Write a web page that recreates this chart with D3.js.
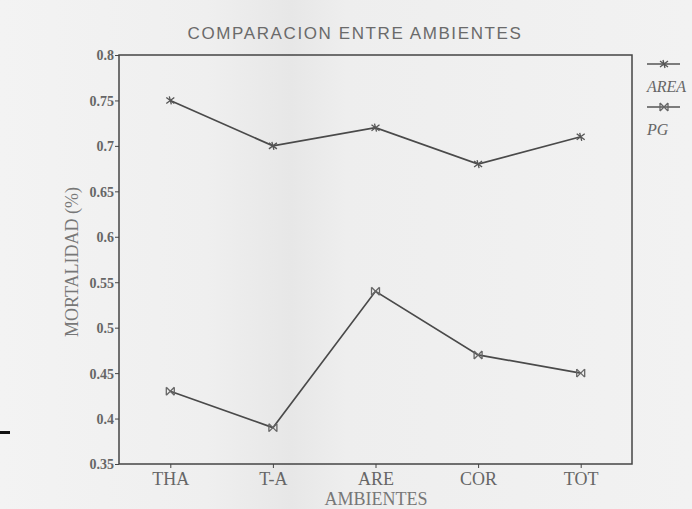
<!DOCTYPE html>
<html>
<head>
<meta charset="utf-8">
<title>Comparacion entre ambientes</title>
<script src="https://cdn.jsdelivr.net/npm/d3@7"></script>
<style>
  * { margin: 0; padding: 0; }
  body { background: #f1f1f1; }
  .axis text { font-family: "Liberation Serif", "DejaVu Serif", serif; fill: #666; }
  .axis path, .axis line { stroke: #444; }
</style>
</head>
<body>
<script>
// values
var ambientes = ["THA", "T-A", "ARE", "COR", "TOT"];
var areaValues = [0.75, 0.70, 0.72, 0.68, 0.71];
var pgValues = [0.43, 0.39, 0.54, 0.47, 0.45];
var yTicks = [0.35, 0.4, 0.45, 0.5, 0.55, 0.6, 0.65, 0.7, 0.75, 0.8];
var seriesNames = ["AREA", "PG"];

var W = 692, H = 509;
var margin = { top: 55, right: 60, bottom: 45, left: 119 },
    width = 632 - margin.left,
    height = 464 - margin.top;

var svg = d3.select("body").append("svg")
    .attr("width", W)
    .attr("height", H);

// scanned paper look: a slightly darker vertical band
var defs = svg.append("defs");
var grad = defs.append("linearGradient").attr("id", "paper");
grad.append("stop").attr("offset", "0%").attr("stop-color", "#f3f3f3");
grad.append("stop").attr("offset", "30%").attr("stop-color", "#efefef");
grad.append("stop").attr("offset", "42%").attr("stop-color", "#e7e7e7");
grad.append("stop").attr("offset", "50%").attr("stop-color", "#eeeeee");
grad.append("stop").attr("offset", "100%").attr("stop-color", "#f2f2f2");
svg.append("rect").attr("width", W).attr("height", H).attr("fill", "url(#paper)");

// stray mark at the left edge of the scan
svg.append("rect").attr("x", 0).attr("y", 431).attr("width", 10).attr("height", 3).attr("fill", "#111");

var g = svg.append("g")
    .attr("transform", "translate(" + margin.left + "," + margin.top + ")");

var x = d3.scalePoint().domain(ambientes).range([0, width]).padding(0.5);
var y = d3.scaleLinear().domain([0.35, 0.8]).range([height, 0]);

// frame
g.append("rect")
    .attr("width", width).attr("height", height)
    .attr("fill", "none").attr("stroke", "#444").attr("stroke-width", 1.5);

var yAxis = g.append("g").attr("class", "axis")
    .call(d3.axisLeft(y).tickValues(yTicks).tickSize(4).tickPadding(1)
        .tickFormat(function(d) { return d3.format("")(+d.toFixed(2)); }));
yAxis.select(".domain").remove();
yAxis.selectAll("text").style("font-size", "14px").style("font-weight", "bold").attr("dy", "0.35em");

var xAxis = g.append("g").attr("class", "axis")
    .attr("transform", "translate(0," + height + ")")
    .call(d3.axisBottom(x).tickSize(4).tickPadding(4));
xAxis.select(".domain").remove();
xAxis.selectAll("text").style("font-size", "18px");

// lines
var line = d3.line()
    .x(function(d, i) { return x(ambientes[i]); })
    .y(function(d) { return y(d); });

[areaValues, pgValues].forEach(function(vals) {
    g.append("path")
        .datum(vals)
        .attr("d", line)
        .attr("fill", "none")
        .attr("stroke", "#4a4a4a")
        .attr("stroke-width", 1.7);
});

// markers
function starMarker(sel) {
    sel.append("path")
        .attr("d", "M-4,-3L4,3M-4,3L4,-3M-1,-4L1,4")
        .attr("stroke", "#555").attr("stroke-width", 1.3).attr("fill", "none");
}
function bowMarker(sel) {
    sel.append("path")
        .attr("d", "M-4,-4L4,4M-4,4L4,-4M-4,-4L-4,4M4,-4L4,4")
        .attr("stroke", "#666").attr("stroke-width", 1.3).attr("fill", "none");
}

g.selectAll(".areaPt").data(areaValues).enter().append("g")
    .attr("class", "areaPt")
    .attr("transform", function(d, i) { return "translate(" + x(ambientes[i]) + "," + y(d) + ")"; })
    .call(starMarker);

g.selectAll(".pgPt").data(pgValues).enter().append("g")
    .attr("class", "pgPt")
    .attr("transform", function(d, i) { return "translate(" + x(ambientes[i]) + "," + y(d) + ")"; })
    .call(bowMarker);

// title
svg.append("text")
    .attr("x", 355).attr("y", 39)
    .attr("text-anchor", "middle")
    .style("font-family", "Liberation Sans, Arial, sans-serif")
    .style("font-size", "17px")
    .style("letter-spacing", "1.6px")
    .style("fill", "#6a6a6a")
    .text("COMPARACION ENTRE AMBIENTES");

// axis titles
svg.append("text")
    .attr("transform", "translate(78,262) rotate(-90)")
    .attr("text-anchor", "middle")
    .style("font-family", "Liberation Serif, serif")
    .style("font-size", "18px")
    .style("fill", "#777")
    .text("MORTALIDAD (%)");

svg.append("text")
    .attr("x", 376).attr("y", 505)
    .attr("text-anchor", "middle")
    .style("font-family", "Liberation Serif, serif")
    .style("font-size", "18px")
    .style("fill", "#777")
    .text("AMBIENTES");

// legend
var legend = svg.selectAll(".legend").data(seriesNames).enter().append("g")
    .attr("class", "legend")
    .attr("transform", function(d, i) { return "translate(647," + (64 + i * 43) + ")"; });

legend.append("line")
    .attr("x1", 0).attr("x2", 33)
    .attr("stroke", "#555").attr("stroke-width", 1.3);
legend.append("g")
    .attr("transform", "translate(17,0)")
    .each(function(d, i) { d3.select(this).call(i === 0 ? starMarker : bowMarker); });
legend.append("text")
    .attr("x", 0).attr("y", 28)
    .style("font-family", "Liberation Serif, serif")
    .style("font-style", "italic")
    .style("font-size", "16px")
    .style("fill", "#666")
    .text(function(d) { return d; });
</script>
</body>
</html>
